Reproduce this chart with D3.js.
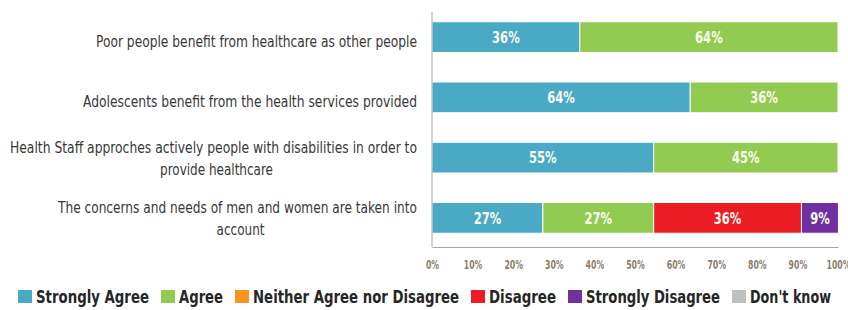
<!DOCTYPE html>
<html>
<head>
<meta charset="utf-8">
<script src="https://cdn.jsdelivr.net/npm/d3@7"></script>
<style>
  html, body { margin: 0; padding: 0; background: #ffffff; }
  svg { display: block; }
</style>
</head>
<body>
<svg id="chart" width="848" height="310"></svg>
<script>
// ---- data ----
const categories = [
  "Poor people benefit from healthcare as other people",
  "Adolescents benefit from the health services provided",
  "Health Staff approches actively people with disabilities in order to\nprovide healthcare",
  "The concerns and needs of men and women are taken into\naccount"
];
const seriesNames = ["Strongly Agree", "Agree", "Neither Agree nor Disagree", "Disagree", "Strongly Disagree", "Don't know"];
const stronglyAgree    = [36.4, 63.6, 54.6, 27.3];
const agree            = [63.6, 36.4, 45.4, 27.3];
const neither          = [0, 0, 0, 0];
const disagree         = [0, 0, 0, 36.4];
const stronglyDisagree = [0, 0, 0, 9.1];
const dontKnow         = [0, 0, 0, 0];
const xTicks = [0, 10, 20, 30, 40, 50, 60, 70, 80, 90, 100];

// ---- styles / layout ----
const colors = ["#4aaac5", "#92cb52", "#f7941d", "#ec1c24", "#7030a0", "#bfbfbf"];
const FONT = "'Liberation Sans Narrow', 'DejaVu Sans Condensed', sans-serif";
// rendered widths of the (condensed) label lines, to imitate the narrow typeface
const catLineWidths = [[321], [334], [407, 113], [359, 48]];
const legendTextWidths = [113, 44, 206, 67, 134, 81];

function condense(sel, factor) {
  sel.each(function () {
    const w = this.getComputedTextLength();
    d3.select(this).attr("textLength", w * factor).attr("lengthAdjust", "spacingAndGlyphs");
  });
}

const seriesValues = [stronglyAgree, agree, neither, disagree, stronglyDisagree, dontKnow];
const rows = categories.map((c, i) => {
  const r = { category: c };
  seriesNames.forEach((s, j) => { r[s] = seriesValues[j][i]; });
  return r;
});

const svg = d3.select("#chart");

const x = d3.scaleLinear().domain([0, 100]).range([432, 838]);
const y = d3.scaleBand().domain(categories).range([7, 248]).paddingInner(0.49).paddingOuter(0.245);

const stacked = d3.stack().keys(seriesNames)(rows);

// bars
const layer = svg.append("g").selectAll("g")
  .data(stacked).join("g")
  .attr("fill", (d, i) => colors[i]);

layer.selectAll("rect")
  .data(d => d.map(p => ({ p, key: d.key })).filter(d => d.p[1] - d.p[0] > 0))
  .join("rect")
  .attr("x", d => x(d.p[0]))
  .attr("width", d => x(d.p[1]) - x(d.p[0]))
  .attr("y", d => y(d.p.data.category))
  .attr("height", y.bandwidth())
  .attr("stroke", "#ffffff")
  .attr("stroke-width", 1);

// bar value labels
const valLabels = layer.selectAll("text")
  .data(d => d.map(p => ({ p, key: d.key })).filter(d => d.p[1] - d.p[0] > 0))
  .join("text")
  .attr("x", d => (x(d.p[0]) + x(d.p[1])) / 2)
  .attr("y", d => y(d.p.data.category) + y.bandwidth() / 2)
  .attr("dy", "0.36em")
  .attr("text-anchor", "middle")
  .attr("fill", "#fbfbf0")
  .attr("font-family", FONT)
  .attr("font-weight", "bold")
  .attr("font-size", 16)
  .text(d => Math.round(d.p[1] - d.p[0]) + "%");
condense(valLabels, 0.8);

// axes lines
svg.append("line")
  .attr("x1", x(0)).attr("x2", x(0))
  .attr("y1", 12).attr("y2", 247)
  .attr("stroke", "#a6a6a6").attr("stroke-width", 1);

const xAxis = d3.axisBottom(x).tickValues(xTicks).tickSize(0).tickPadding(13)
  .tickFormat(d => d + "%");
const gx = svg.append("g").attr("transform", "translate(0,247)").call(xAxis);
gx.select(".domain").attr("stroke", "#a6a6a6");
const tickTexts = gx.selectAll("text")
  .attr("fill", "#8a7d6e")
  .attr("font-family", FONT)
  .attr("font-weight", "bold")
  .attr("font-size", 12);
condense(tickTexts, 0.72);

// category labels
const labelRight = 417;
const catG = svg.append("g");
categories.forEach((c, i) => {
  const lines = c.split("\n");
  const cy = y(c) + y.bandwidth() / 2;
  const w1 = catLineWidths[i][0];
  catG.append("text")
    .attr("x", labelRight)
    .attr("text-anchor", "end")
    .attr("fill", "#383838")
    .attr("font-family", FONT)
    .attr("font-size", 15)
    .attr("dy", "0.35em")
    .attr("y", lines.length === 1 ? cy + 4.5 : cy - 10)
    .attr("textLength", w1)
    .attr("lengthAdjust", "spacingAndGlyphs")
    .text(lines[0]);
  if (lines.length > 1) {
    catG.append("text")
      .attr("x", labelRight - w1 / 2 + 3)
      .attr("text-anchor", "middle")
      .attr("fill", "#383838")
      .attr("font-family", FONT)
      .attr("font-size", 15)
      .attr("dy", "0.35em")
      .attr("y", cy + 12)
      .attr("textLength", catLineWidths[i][1])
      .attr("lengthAdjust", "spacingAndGlyphs")
      .text(lines[1]);
  }
});

// legend
const legend = svg.append("g");
let lx = 18;
seriesNames.forEach((s, i) => {
  legend.append("rect")
    .attr("x", lx).attr("y", 290)
    .attr("width", 14).attr("height", 13)
    .attr("fill", colors[i]);
  legend.append("text")
    .attr("x", lx + 18)
    .attr("y", 296.5)
    .attr("dy", "0.36em")
    .attr("fill", "#262626")
    .attr("font-family", FONT)
    .attr("font-weight", "bold")
    .attr("font-size", 18.5)
    .attr("textLength", legendTextWidths[i])
    .attr("lengthAdjust", "spacingAndGlyphs")
    .text(s);
  lx += 18 + legendTextWidths[i] + 12;
});
</script>
</body>
</html>
